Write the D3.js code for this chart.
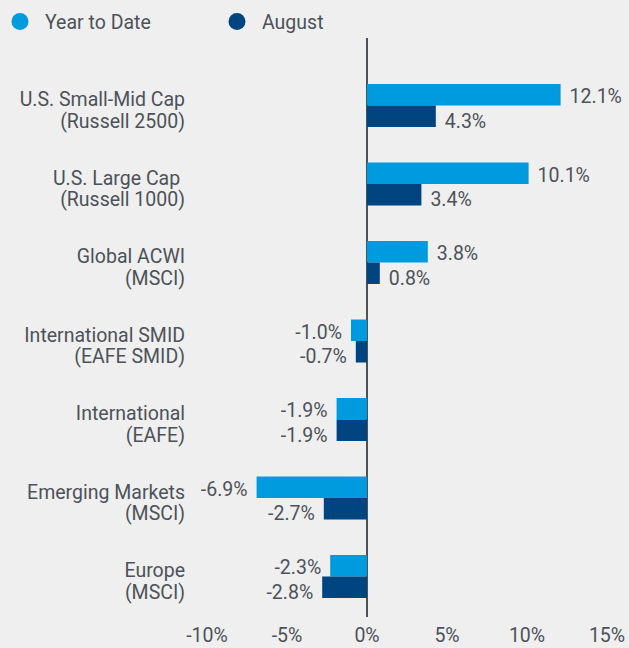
<!DOCTYPE html>
<html>
<head>
<meta charset="utf-8">
<script src="https://cdn.jsdelivr.net/npm/d3@7"></script>
<style>
  body { margin: 0; background: #efefef; }
  text { font-family: Roboto, "Liberation Sans", sans-serif; fill: #4d5259; font-size: 19.5px; }
</style>
</head>
<body>
<svg id="chart" width="629" height="648"></svg>
<script>
// categories, two lines each
let categories = [
  "U.S. Small-Mid Cap|(Russell 2500)",
  "U.S. Large Cap |(Russell 1000)",
  "Global ACWI|(MSCI)",
  "International SMID|(EAFE SMID)",
  "International|(EAFE)",
  "Emerging Markets|(MSCI)",
  "Europe|(MSCI)",
];
let ytd = [12.1, 10.1, 3.8, -1.0, -1.9, -6.9, -2.3];
let august = [4.3, 3.4, 0.8, -0.7, -1.9, -2.7, -2.8];
let series = ["Year to Date", "August"];
let colors = ["#009ade", "#00457f"];
let ticks = [-10, -5, 0, 5, 10, 15];

let svg = d3.select("#chart");

let x = d3.scaleLinear().domain([-10, 15]).range([207, 607]);
let y = d3.scaleBand().domain(categories).range([84, 84 + 7 * 78.5]);
let barH = 21.5;

// legend
let legendX = [20, 237];
series.forEach(function (s, i) {
  svg.append("circle")
    .attr("cx", legendX[i]).attr("cy", 21.5).attr("r", 8.5)
    .style("fill", colors[i]);
  svg.append("text")
    .attr("x", legendX[i] + 25).attr("y", 29)
    .text(s);
});

// zero line
svg.append("line")
  .attr("x1", x(0)).attr("x2", x(0))
  .attr("y1", 38).attr("y2", 617)
  .style("stroke", "#4d5259").style("stroke-width", 2);

// bars
let rows = categories.map((c, i) => ({ cat: c, vals: [ytd[i], august[i]] }));
let groups = svg.selectAll(".grp").data(rows).enter().append("g")
  .attr("class", "grp")
  .attr("transform", d => "translate(0," + y(d.cat) + ")");

groups.selectAll("rect")
  .data(d => d.vals)
  .enter().append("rect")
  .attr("x", d => x(Math.min(0, d)))
  .attr("width", d => Math.abs(x(d) - x(0)))
  .attr("y", (d, i) => i * barH)
  .attr("height", barH)
  .style("fill", (d, i) => colors[i]);

groups.selectAll(".val")
  .data(d => d.vals)
  .enter().append("text")
  .attr("class", "val")
  .attr("x", d => d >= 0 ? x(d) + 9 : x(d) - 9)
  .attr("y", (d, i) => i * barH + (i ? 22 : 19))
  .attr("text-anchor", d => d >= 0 ? "start" : "end")
  .text(d => d.toFixed(1) + "%");

// category labels
groups.append("text")
  .attr("text-anchor", "end")
  .selectAll("tspan")
  .data(d => d.cat.split("|"))
  .enter().append("tspan")
  .attr("x", 185)
  .attr("y", (d, i) => 22 + i * 21.5)
  .text(d => d);

// x axis labels
svg.selectAll(".tick")
  .data(ticks)
  .enter().append("text")
  .attr("class", "tick")
  .attr("x", d => x(d))
  .attr("y", 642)
  .attr("text-anchor", "middle")
  .text(d => d + "%");
</script>
</body>
</html>
